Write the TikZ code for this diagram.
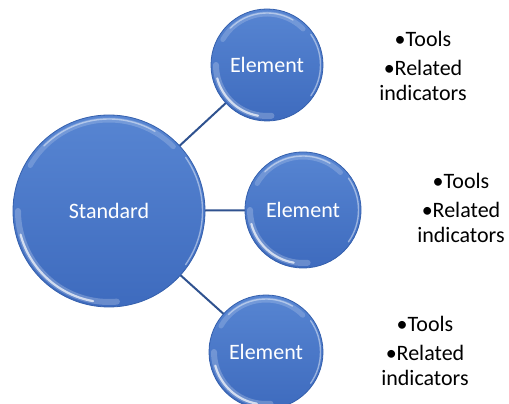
\documentclass[tikz,border=0pt]{standalone}
\usepackage{fontspec}
\setmainfont{Carlito}
\begin{document}
\begin{tikzpicture}[x=1pt,y=1pt,
  ball/.style={circle, inner sep=0pt, minimum size=2*#1,
    top color=ballTop, bottom color=ballBot, draw=ballEdge, line width=0.8pt,
    text=white, font=\fontsize{22}{26}\selectfont},
  link/.style={draw=linkBlue, line width=2pt},
  notes/.style={align=center, font=\fontsize{22}{25}\selectfont, text=black, inner sep=0pt},
  rim/.style={white, line width=#1, line cap=round}
]
\definecolor{ballTop}{HTML}{5785D2}
\definecolor{ballBot}{HTML}{3E6BBE}
\definecolor{ballEdge}{HTML}{3560AD}
\definecolor{linkBlue}{HTML}{2F528F}
\useasboundingbox (0,0) rectangle (509,404);

% connectors, behind the balls
\coordinate (cS) at (109,193);
\coordinate (c1) at (267,339);
\coordinate (c2) at (303,194);
\coordinate (c3) at (266,52);
\draw[link] (cS) -- (c1);
\draw[link] (cS) -- (c2);
\draw[link] (cS) -- (c3);

% balls
\node[ball=96pt] (std) at (cS) {Standard};
\node[ball=56pt] (e1) at (c1) {Element};
\node[ball=58pt] (e2) at (c2) {Element};
\node[ball=57pt] (e3) at (c3) {Element};

% glossy rims
\foreach \n/\r in {std/96, e1/56, e2/58, e3/57}{
  \draw[rim=5pt, opacity=.18] ([shift={(45:\r pt-5pt)}]\n.center) arc[start angle=45, end angle=150, radius=\r pt-5pt];
  \draw[rim=1.4pt, opacity=.45] ([shift={(60:\r pt-4pt)}]\n.center) arc[start angle=60, end angle=135, radius=\r pt-4pt];
  \draw[rim=6pt, opacity=.22] ([shift={(180:\r pt-5pt)}]\n.center) arc[start angle=180, end angle=275, radius=\r pt-5pt];
  \draw[rim=2.2pt, opacity=.7] ([shift={(195:\r pt-4.5pt)}]\n.center) arc[start angle=195, end angle=260, radius=\r pt-4.5pt];
  \draw[rim=1.4pt, opacity=.45] ([shift={(-35:\r pt-2.5pt)}]\n.center) arc[start angle=-35, end angle=35, radius=\r pt-2.5pt];
}

% bullet notes
\node[notes] (n1) at (423,338) {\textbullet Tools\\[4pt]\textbullet Related\\indicators};
\node[notes] (n2) at (461,196) {\textbullet Tools\\[4pt]\textbullet Related\\indicators};
\node[notes] (n3) at (425,53) {\textbullet Tools\\[4pt]\textbullet Related\\indicators};
\end{tikzpicture}
\end{document}
